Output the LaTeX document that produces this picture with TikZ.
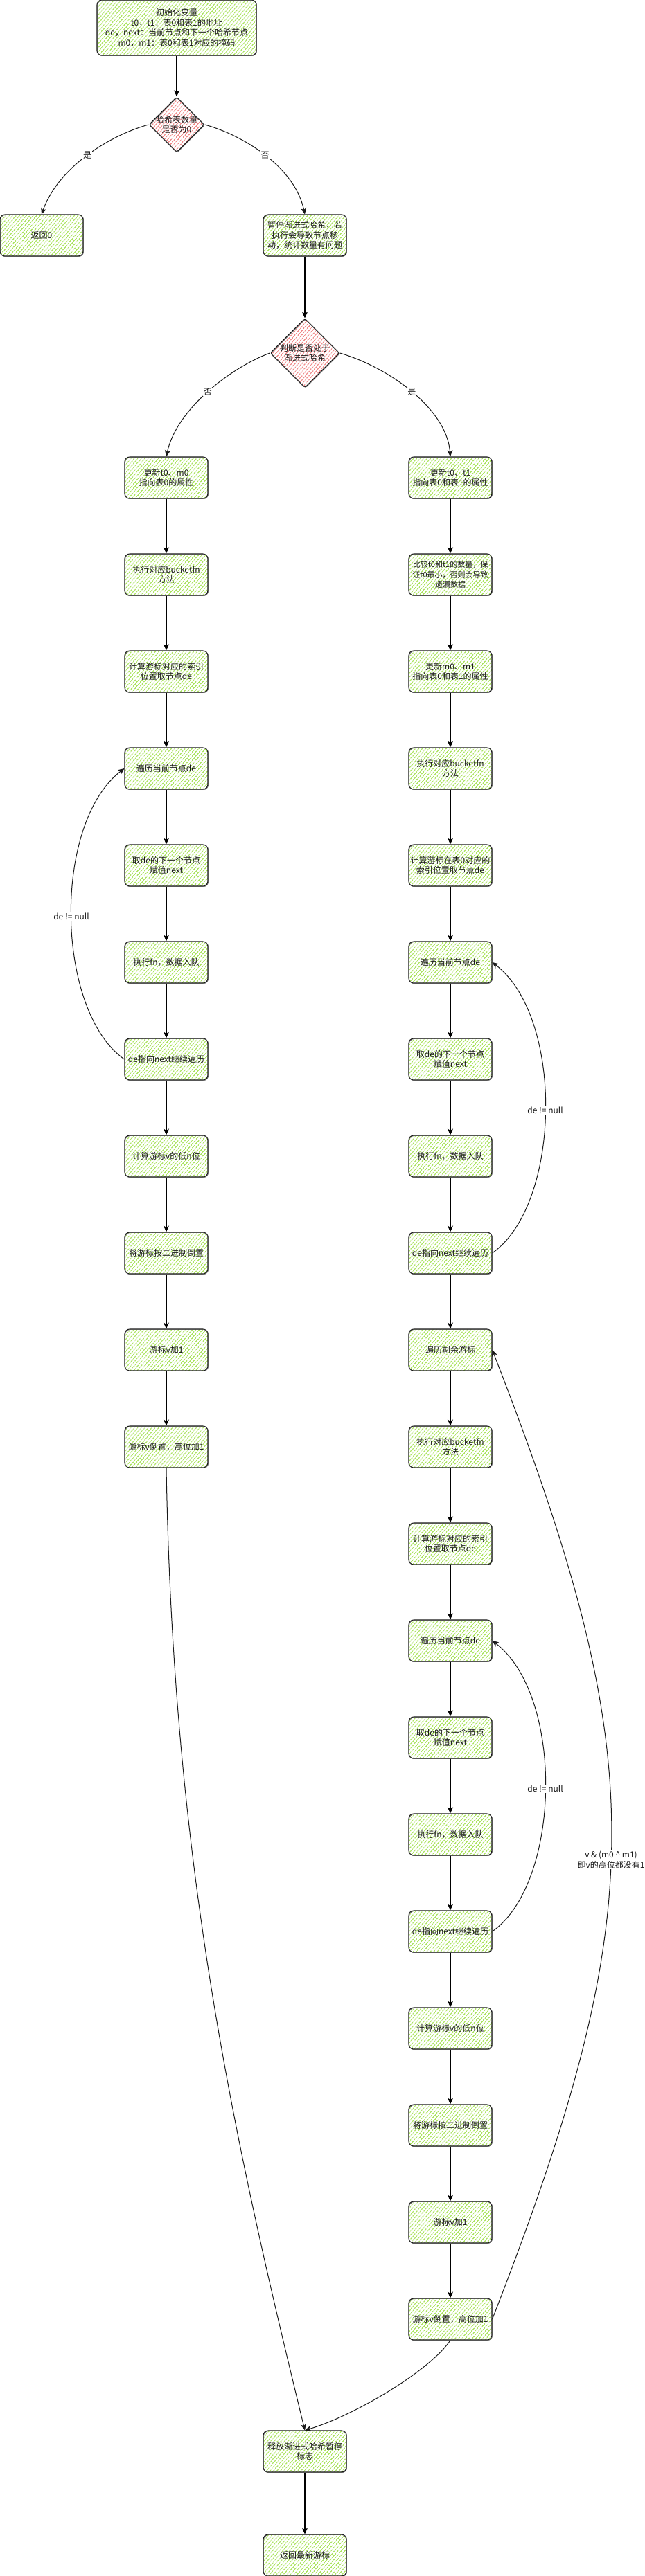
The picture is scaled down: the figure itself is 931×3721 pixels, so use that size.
\documentclass[tikz,border=0pt]{standalone}
\usepackage{fontspec}
\setmainfont{Noto Sans CJK SC}
\usetikzlibrary{shapes.geometric, arrows.meta, patterns.meta}
\definecolor{hgreen}{RGB}{172,228,98}
\definecolor{hred}{RGB}{240,140,140}
\begin{document}
\begin{tikzpicture}[x=1pt, y=-1pt,
  txt/.style={font=\fontsize{12}{14.5}\selectfont, align=center, text=black!90},
  box/.style={txt, rectangle, rounded corners=7pt, minimum width=120pt, minimum height=60pt,
    inner sep=1pt, draw=black!90, line width=1.1pt,
    pattern={Lines[angle=50,distance=4pt,line width=1.7pt]}, pattern color=hgreen,
    postaction={draw=black!70, line width=0.5pt, transform canvas={shift={(0.7pt,-0.7pt)}}}},
  dia/.style={diamond, minimum width=#1, minimum height=#1, inner sep=0pt, rounded corners=3pt,
    draw=black!90, line width=1.1pt,
    pattern={Lines[angle=50,distance=4pt,line width=1.7pt]}, pattern color=hred,
    postaction={draw=black!70, line width=0.5pt, transform canvas={shift={(0.7pt,-0.7pt)}}}},
  arr/.style={-{Stealth[length=9pt,width=8pt,inset=2.5pt]}, line width=1.1pt, draw=black},
  carr/.style={-{Stealth[length=9pt,width=8pt,inset=2.5pt]}, line width=1pt, draw=black!90},
  elabel/.style={txt, fill=white, inner sep=1pt}
]
\useasboundingbox (0,0) rectangle (931,3721);

% ---- top part
\node[box, minimum width=230pt, minimum height=80pt] (init) at (255,40)
  {初始化变量\\t0，t1：表0和表1的地址\\de，next：当前节点和下一个哈希节点\\m0，m1：表0和表1对应的掩码};
\node[dia=80pt] (d1) at (255,180) {};
\node[txt] (d1t) at (d1.center) {哈希表数量\\是否为0};
\node[box] (ret0) at (60,340) {返回0};
\node[box] (pause) at (440,340) {暂停渐进式哈希，若\\执行会导致节点移\\动，统计数量有问题};
\node[dia=100pt] (d2) at (440,510) {};
\node[txt] (d2t) at (d2.center) {判断是否处于\\渐进式哈希};

% ---- left column
\node[box] (L0) at (240,690) {更新t0、m0\\指向表0的属性};
\node[box] (L1) at (240,830) {执行对应bucketfn\\方法};
\node[box] (L2) at (240,970) {计算游标对应的索引\\位置取节点de};
\node[box] (L3) at (240,1110) {遍历当前节点de};
\node[box] (L4) at (240,1250) {取de的下一个节点\\赋值next};
\node[box] (L5) at (240,1390) {执行fn，数据入队};
\node[box] (L6) at (240,1530) {de指向next继续遍历};
\node[box] (L7) at (240,1670) {计算游标v的低n位};
\node[box] (L8) at (240,1810) {将游标按二进制倒置};
\node[box] (L9) at (240,1950) {游标v加1};
\node[box] (L10) at (240,2090) {游标v倒置，高位加1};

% ---- right column
\node[box] (R0) at (650,690) {更新t0、t1\\指向表0和表1的属性};
\node[box, font=\fontsize{11}{14.5}\selectfont] (R1) at (650,830) {比较t0和t1的数量，保\\证t0最小，否则会导致\\遗漏数据};
\node[box] (R2) at (650,970) {更新m0、m1\\指向表0和表1的属性};
\node[box] (R3) at (650,1110) {执行对应bucketfn\\方法};
\node[box] (R4) at (650,1250) {计算游标在表0对应的\\索引位置取节点de};
\node[box] (R5) at (650,1390) {遍历当前节点de};
\node[box] (R6) at (650,1530) {取de的下一个节点\\赋值next};
\node[box] (R7) at (650,1670) {执行fn，数据入队};
\node[box] (R8) at (650,1810) {de指向next继续遍历};
\node[box] (R9) at (650,1950) {遍历剩余游标};
\node[box] (R10) at (650,2090) {执行对应bucketfn\\方法};
\node[box] (R11) at (650,2230) {计算游标对应的索引\\位置取节点de};
\node[box] (R12) at (650,2370) {遍历当前节点de};
\node[box] (R13) at (650,2510) {取de的下一个节点\\赋值next};
\node[box] (R14) at (650,2650) {执行fn，数据入队};
\node[box] (R15) at (650,2790) {de指向next继续遍历};
\node[box] (R16) at (650,2930) {计算游标v的低n位};
\node[box] (R17) at (650,3070) {将游标按二进制倒置};
\node[box] (R18) at (650,3210) {游标v加1};
\node[box] (R19) at (650,3350) {游标v倒置，高位加1};

% ---- bottom
\node[box] (rel) at (440,3541) {释放渐进式哈希暂停\\标志};
\node[box] (retv) at (440,3691) {返回最新游标};

% ---- connectors: top
\draw[arr] (init) -- (d1);
\draw[carr] (d1.west) .. controls (160,195) and (85,240) .. (ret0.north)
  node[elabel, pos=0.5] {是};
\draw[carr] (d1.east) .. controls (350,195) and (425,240) .. (pause.north)
  node[elabel, pos=0.5] {否};
\draw[arr] (pause) -- (d2);
\draw[carr] (d2.west) .. controls (335,530) and (255,590) .. (L0.north)
  node[elabel, pos=0.5] {否};
\draw[carr] (d2.east) .. controls (560,530) and (645,590) .. (R0.north)
  node[elabel, pos=0.5] {是};

% ---- left column straight arrows
\draw[arr] (L0) -- (L1);
\draw[arr] (L1) -- (L2);
\draw[arr] (L2) -- (L3);
\draw[arr] (L3) -- (L4);
\draw[arr] (L4) -- (L5);
\draw[arr] (L5) -- (L6);
\draw[arr] (L6) -- (L7);
\draw[arr] (L7) -- (L8);
\draw[arr] (L8) -- (L9);
\draw[arr] (L9) -- (L10);

% ---- right column straight arrows
\draw[arr] (R0) -- (R1);
\draw[arr] (R1) -- (R2);
\draw[arr] (R2) -- (R3);
\draw[arr] (R3) -- (R4);
\draw[arr] (R4) -- (R5);
\draw[arr] (R5) -- (R6);
\draw[arr] (R6) -- (R7);
\draw[arr] (R7) -- (R8);
\draw[arr] (R8) -- (R9);
\draw[arr] (R9) -- (R10);
\draw[arr] (R10) -- (R11);
\draw[arr] (R11) -- (R12);
\draw[arr] (R12) -- (R13);
\draw[arr] (R13) -- (R14);
\draw[arr] (R14) -- (R15);
\draw[arr] (R15) -- (R16);
\draw[arr] (R16) -- (R17);
\draw[arr] (R17) -- (R18);
\draw[arr] (R18) -- (R19);
\draw[arr] (rel) -- (retv);

% ---- loops
\draw[carr] (L6.west) .. controls (80,1460) and (75,1190) .. (L3.west)
  node[elabel, pos=0.5] {de != null};
\draw[carr] (R8.east) .. controls (810,1740) and (815,1470) .. (R5.east)
  node[elabel, pos=0.5] {de != null};
\draw[carr] (R15.east) .. controls (810,2720) and (815,2450) .. (R12.east)
  node[elabel, pos=0.5] {de != null};
\draw[carr] (R19.east) .. controls (940,2760) and (940,2540) .. (R9.east)
  node[elabel, pos=0.47] {v \& (m0 \textasciicircum{} m1)\\即v的高位都没有1};

% ---- into release
\draw[carr] (L10.south) .. controls (250,2700) and (340,3100) .. (rel.north);
\draw[carr] (R19.south) .. controls (620,3425) and (510,3490) .. (rel.north);
\end{tikzpicture}
\end{document}
